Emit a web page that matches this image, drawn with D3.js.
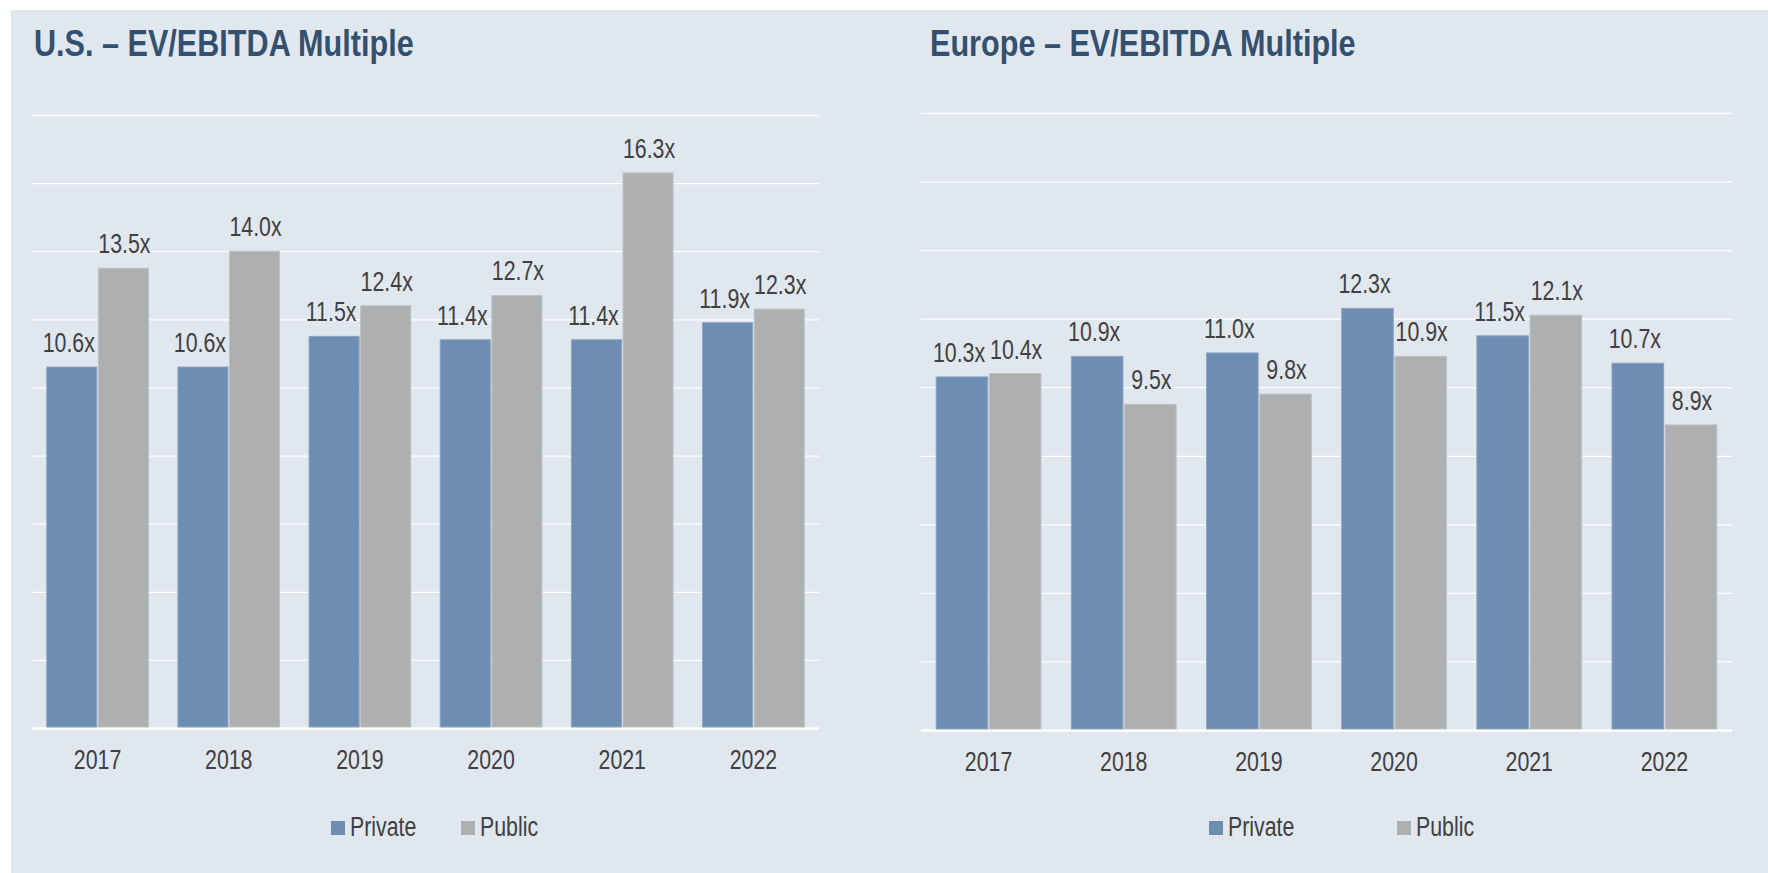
<!DOCTYPE html>
<html>
<head>
<meta charset="utf-8">
<script src="https://cdn.jsdelivr.net/npm/d3@7"></script>
<style>
  body { margin: 0; background: #fff; }
  svg { display: block; }
  text { font-family: "Liberation Sans Narrow", "Arial Narrow", "Liberation Sans", sans-serif; }
</style>
</head>
<body>
<div class="chart"></div>
<script>
// chart values
var years = ["2017", "2018", "2019", "2020", "2021", "2022"];
var seriesNames = ["Private", "Public"];
var usPrivate = [10.6, 10.6, 11.5, 11.4, 11.4, 11.9];
var usPublic = [13.5, 14.0, 12.4, 12.7, 16.3, 12.3];
var euPrivate = [10.3, 10.9, 11.0, 12.3, 11.5, 10.7];
var euPublic = [10.4, 9.5, 9.8, 10.9, 12.1, 8.9];
var yTicks = [0, 2, 4, 6, 8, 10, 12, 14, 16, 18];

var svgWidth = 1768;
var svgHeight = 873;

var colors = { Private: "#6e8db2", Public: "#aeafb1" };

var svg = d3.select(".chart")
  .append("svg")
  .attr("width", svgWidth)
  .attr("height", svgHeight);

// squeeze text to look like a narrow face (no narrow font installed)
function narrow(sel, k) {
  sel.each(function() {
    var w = this.getComputedTextLength();
    d3.select(this)
      .attr("textLength", w * (k || 0.79))
      .attr("lengthAdjust", "spacingAndGlyphs");
  });
}

// panel background
svg.append("rect")
  .attr("x", 11)
  .attr("y", 10)
  .attr("width", svgWidth - 11)
  .attr("height", svgHeight - 10)
  .attr("fill", "#e1e7ef");

var panels = [
  { title: "U.S. \u2013 EV/EBITDA Multiple", titleX: 34, left: 32, right: 819, top: 115, bottom: 728,
    priv: usPrivate, pub: usPublic, legendX: [331, 461] },
  { title: "Europe \u2013 EV/EBITDA Multiple", titleX: 930, left: 921, right: 1732, top: 113, bottom: 730,
    priv: euPrivate, pub: euPublic, legendX: [1209, 1397] }
];

panels.forEach(function(p) {
  var g = svg.append("g");

  // title
  g.append("text")
    .attr("x", p.titleX)
    .attr("y", 56)
    .attr("font-size", "36px")
    .attr("font-weight", "bold")
    .attr("fill", "#34506f")
    .text(p.title)
    .call(narrow, 0.85);

  var x0 = d3.scaleBand()
    .domain(years)
    .range([p.left, p.right])
    .paddingInner(0.225)
    .paddingOuter(0.1125);

  var x1 = d3.scaleBand()
    .domain(seriesNames)
    .range([0, x0.bandwidth()])
    .paddingInner(0.03);

  var y = d3.scaleLinear()
    .domain([0, 18])
    .range([p.bottom, p.top]);

  // gridlines
  var yAxis = d3.axisLeft(y)
    .tickValues(yTicks)
    .tickSize(-(p.right - p.left))
    .tickFormat("");

  var grid = g.append("g")
    .attr("transform", `translate(${p.left}, 0)`)
    .call(yAxis);
  grid.select(".domain").remove();
  grid.selectAll(".tick line")
    .attr("stroke", "#ffffff")
    .attr("stroke-width", d => d === 0 ? 2.5 : 1.3);

  var rows = years.map(function(yr, i) {
    return { year: yr, values: [
      { key: "Private", value: p.priv[i] },
      { key: "Public", value: p.pub[i] }
    ] };
  });

  var groups = g.selectAll(".yr")
    .data(rows)
    .enter()
    .append("g")
    .attr("transform", d => `translate(${x0(d.year)}, 0)`);

  groups.selectAll("rect")
    .data(d => d.values)
    .enter()
    .append("rect")
    .attr("x", d => x1(d.key))
    .attr("y", d => y(d.value))
    .attr("width", x1.bandwidth())
    .attr("height", d => y(0) - y(d.value) - 1)
    .attr("fill", d => colors[d.key])
    .attr("stroke", d => d.key === "Private" ? "#8aa3c2" : "#c0c1c3")
    .attr("stroke-width", 1);

  // bar labels
  groups.selectAll(".lbl")
    .data(d => d.values)
    .enter()
    .append("text")
    .attr("x", d => x1(d.key) + x1.bandwidth() / 2 + (d.key === "Private" ? -3 : 1))
    .attr("y", d => y(d.value) - 15)
    .attr("text-anchor", "middle")
    .attr("font-size", "27px")
    .attr("fill", "#404040")
    .text(d => d.value.toFixed(1) + "x")
    .call(narrow);

  // category labels
  var xAxis = d3.axisBottom(x0).tickSize(0).tickPadding(0);
  var xg = g.append("g")
    .attr("transform", `translate(0, ${p.bottom})`)
    .call(xAxis);
  xg.select(".domain").remove();
  xg.selectAll("text")
    .attr("dy", null)
    .attr("y", 41)
    .attr("font-size", "27px")
    .attr("font-family", null)
    .attr("fill", "#404040")
    .call(narrow);

  // legend
  seriesNames.forEach(function(name, i) {
    g.append("rect")
      .attr("x", p.legendX[i])
      .attr("y", 821)
      .attr("width", 14)
      .attr("height", 14)
      .attr("fill", colors[name]);
    g.append("text")
      .attr("x", p.legendX[i] + 19)
      .attr("y", 836)
      .attr("font-size", "27px")
      .attr("fill", "#404040")
      .text(name)
      .call(narrow);
  });
});
</script>
</body>
</html>
